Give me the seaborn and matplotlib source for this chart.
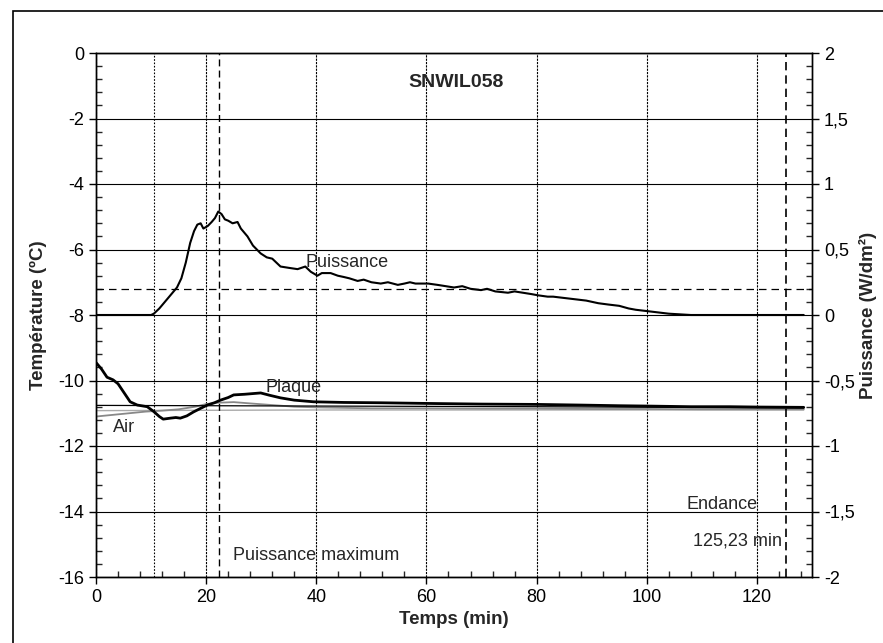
import matplotlib
matplotlib.use("Agg")
import pandas as pd
import matplotlib.pyplot as plt
import seaborn as sns
from matplotlib.ticker import MultipleLocator, FuncFormatter
from matplotlib.patches import Rectangle

# --- données ---
temps_puis = [0, 5, 10, 10.5, 11.5, 12.5, 13.5, 14.7, 15.5, 16.3,
              17.1, 17.8, 18.4, 19, 19.5, 20.3, 21, 21.6, 22.2, 22.8,
              23.4, 24, 24.8, 25.7, 26.3, 27.5, 28.5, 29.9, 31, 32,
              33.5, 35, 36.6, 38, 39, 40.2, 41, 42.6, 43.9, 45,
              46, 47.5, 48.6, 50, 51.7, 53, 54.8, 56, 57, 58,
              60.3, 62, 63.5, 65, 66.5, 68, 69.9, 71, 72.5, 74.8,
              76, 77.5, 79, 80.3, 82, 83, 85, 87, 89, 91.2,
              93, 95, 96.7, 98, 100, 102, 104, 106, 108, 110,
              115, 120, 125, 128.5]
puissance = [0, 0, 0, 0.01, 0.05, 0.1, 0.15, 0.21, 0.28, 0.4,
             0.55, 0.64, 0.69, 0.7, 0.66, 0.68, 0.71, 0.74, 0.79, 0.77,
             0.73, 0.72, 0.70, 0.71, 0.66, 0.60, 0.53, 0.47, 0.44, 0.43,
             0.37, 0.36, 0.35, 0.37, 0.33, 0.30, 0.32, 0.32, 0.30, 0.29,
             0.28, 0.26, 0.27, 0.25, 0.24, 0.25, 0.23, 0.24, 0.25, 0.24,
             0.24, 0.23, 0.22, 0.21, 0.22, 0.20, 0.19, 0.20, 0.18, 0.17,
             0.18, 0.17, 0.16, 0.15, 0.14, 0.14, 0.13, 0.12, 0.11, 0.09,
             0.08, 0.07, 0.05, 0.04, 0.03, 0.02, 0.01, 0.005, 0, 0,
             0, 0, 0, 0]

temps_plaque = [0, 1, 2, 3.1, 4, 5, 6.2, 7.5, 9.3, 10.5,
                11.5, 12.2, 13.5, 14.5, 15.3, 16.5, 17.7, 19, 20.2, 21.5,
                22.6, 24, 25, 27, 29.9, 31.5, 33.5, 36, 39.5, 45,
                51.7, 60, 70, 80, 88, 95, 100, 108, 115, 120, 128.5]
plaque = [-9.45, -9.65, -9.9, -9.98, -10.1, -10.35, -10.65, -10.75, -10.8, -10.95,
          -11.1, -11.18, -11.15, -11.13, -11.15, -11.08, -10.96, -10.85, -10.75, -10.68,
          -10.6, -10.52, -10.44, -10.42, -10.38, -10.45, -10.53, -10.6, -10.65, -10.67,
          -10.68, -10.7, -10.72, -10.73, -10.75, -10.77, -10.78, -10.8, -10.8, -10.81, -10.82]

temps_air = [0, 3, 6, 9, 12, 15, 18, 20, 22, 25, 28, 32, 36, 40,
             50, 60, 70, 80, 90, 100, 110, 120, 128.5]
air = [-11.1, -11.05, -11.0, -10.95, -10.92, -10.88, -10.8, -10.72, -10.68, -10.66,
       -10.7, -10.75, -10.8, -10.82, -10.85, -10.85, -10.86, -10.86, -10.87, -10.87,
       -10.88, -10.88, -10.88]

temps_ref = [0, 40, 80, 128.5]
ref_noire = [-10.76, -10.78, -10.8, -10.84]
ref_grise = [-10.92, -10.9, -10.9, -10.9]

t_debut = 10.6
t_pmax = 22.4
t_endance = 125.23
p_seuil = 0.2

sns.set_style("ticks")
plt.rcParams['font.family'] = ['Liberation Sans', 'DejaVu Sans']
plt.rcParams['axes.unicode_minus'] = False

fig = plt.figure(figsize=(8.83, 6.43), dpi=100)
ax = fig.add_axes([96/883, 1-577/643, (812-96)/883, (577-53)/643])
ax2 = ax.twinx()

df_plaque = pd.DataFrame({'t': temps_plaque, 'T': plaque})
df_air = pd.DataFrame({'t': temps_air, 'T': air})
df_puis = pd.DataFrame({'t': temps_puis, 'P': puissance})

sns.lineplot(x=temps_ref, y=ref_grise, ax=ax, color='#aaaaaa', lw=1.0, estimator=None)
sns.lineplot(data=df_air, x='t', y='T', ax=ax, color='#888888', lw=1.3, estimator=None)
sns.lineplot(x=temps_ref, y=ref_noire, ax=ax, color='black', lw=0.9, estimator=None)
sns.lineplot(data=df_plaque, x='t', y='T', ax=ax, color='black', lw=2.0, estimator=None)
sns.lineplot(data=df_puis, x='t', y='P', ax=ax2, color='black', lw=1.5, estimator=None)

ax.set_xlim(0, 130)
ax.set_ylim(-16, 0)
ax2.set_ylim(-2, 2)

ax.xaxis.set_major_locator(MultipleLocator(20))
ax.xaxis.set_minor_locator(MultipleLocator(4))
ax.yaxis.set_major_locator(MultipleLocator(2))
ax.yaxis.set_minor_locator(MultipleLocator(0.4))
ax2.yaxis.set_major_locator(MultipleLocator(0.5))
ax2.yaxis.set_minor_locator(MultipleLocator(0.1))
ax2.yaxis.set_major_formatter(FuncFormatter(lambda v, p: f"{v:g}".replace('.', ',')))

ax.yaxis.grid(True, color='black', lw=0.8)
ax.xaxis.grid(True, color='black', lw=0.8, ls=(0, (2, 1)))

ax.axvline(t_debut, color='black', lw=0.8, ls=(0, (1.5, 1.5)))
ax.axvline(t_pmax, color='black', lw=1.0, ls=(0, (5, 3)))
ax.axvline(t_endance, color='black', lw=1.2, ls=(0, (5, 3)))
ax2.axhline(p_seuil, color='black', lw=0.9, ls=(0, (6, 4)))

for a in (ax, ax2):
    for s in a.spines.values():
        s.set_color('black')
        s.set_linewidth(1.0)
    a.tick_params(which='major', direction='out', length=5, width=1, labelsize=13, colors='black')
    a.tick_params(which='minor', direction='in', length=4, width=1)
ax.tick_params(axis='x', which='both', top=False)

ax.set_xlabel('Temps (min)', fontsize=13.5, fontweight='bold', labelpad=4)
ax.set_ylabel('Température (ºC)', fontsize=13.5, fontweight='bold', labelpad=8)
ax2.set_ylabel('Puissance (W/dm²)', fontsize=13.5, fontweight='bold', labelpad=3)

ax.text(65.4, -0.9, 'SNWIL058', fontsize=14, fontweight='bold', ha='center', va='center')
ax.text(38.1, -6.4, 'Puissance', fontsize=13, ha='left', va='center')
ax.text(30.8, -10.2, 'Plaque', fontsize=13, ha='left', va='center')
ax.text(3.1, -11.45, 'Air', fontsize=13, ha='left', va='center')
ax.text(24.8, -15.35, 'Puissance maximum', fontsize=13, ha='left', va='center')
ax.text(113.7, -13.8, 'Endance', fontsize=13, ha='center', va='center')
ax.text(116.4, -14.9, '125,23 min', fontsize=13, ha='center', va='center')

fig.add_artist(Rectangle((13/883, -0.05), 1.0, 1 - 11/643 + 0.05,
                         transform=fig.transFigure, fill=False, lw=1.2, ec='black'))

fig.savefig('out.png', dpi=100)
